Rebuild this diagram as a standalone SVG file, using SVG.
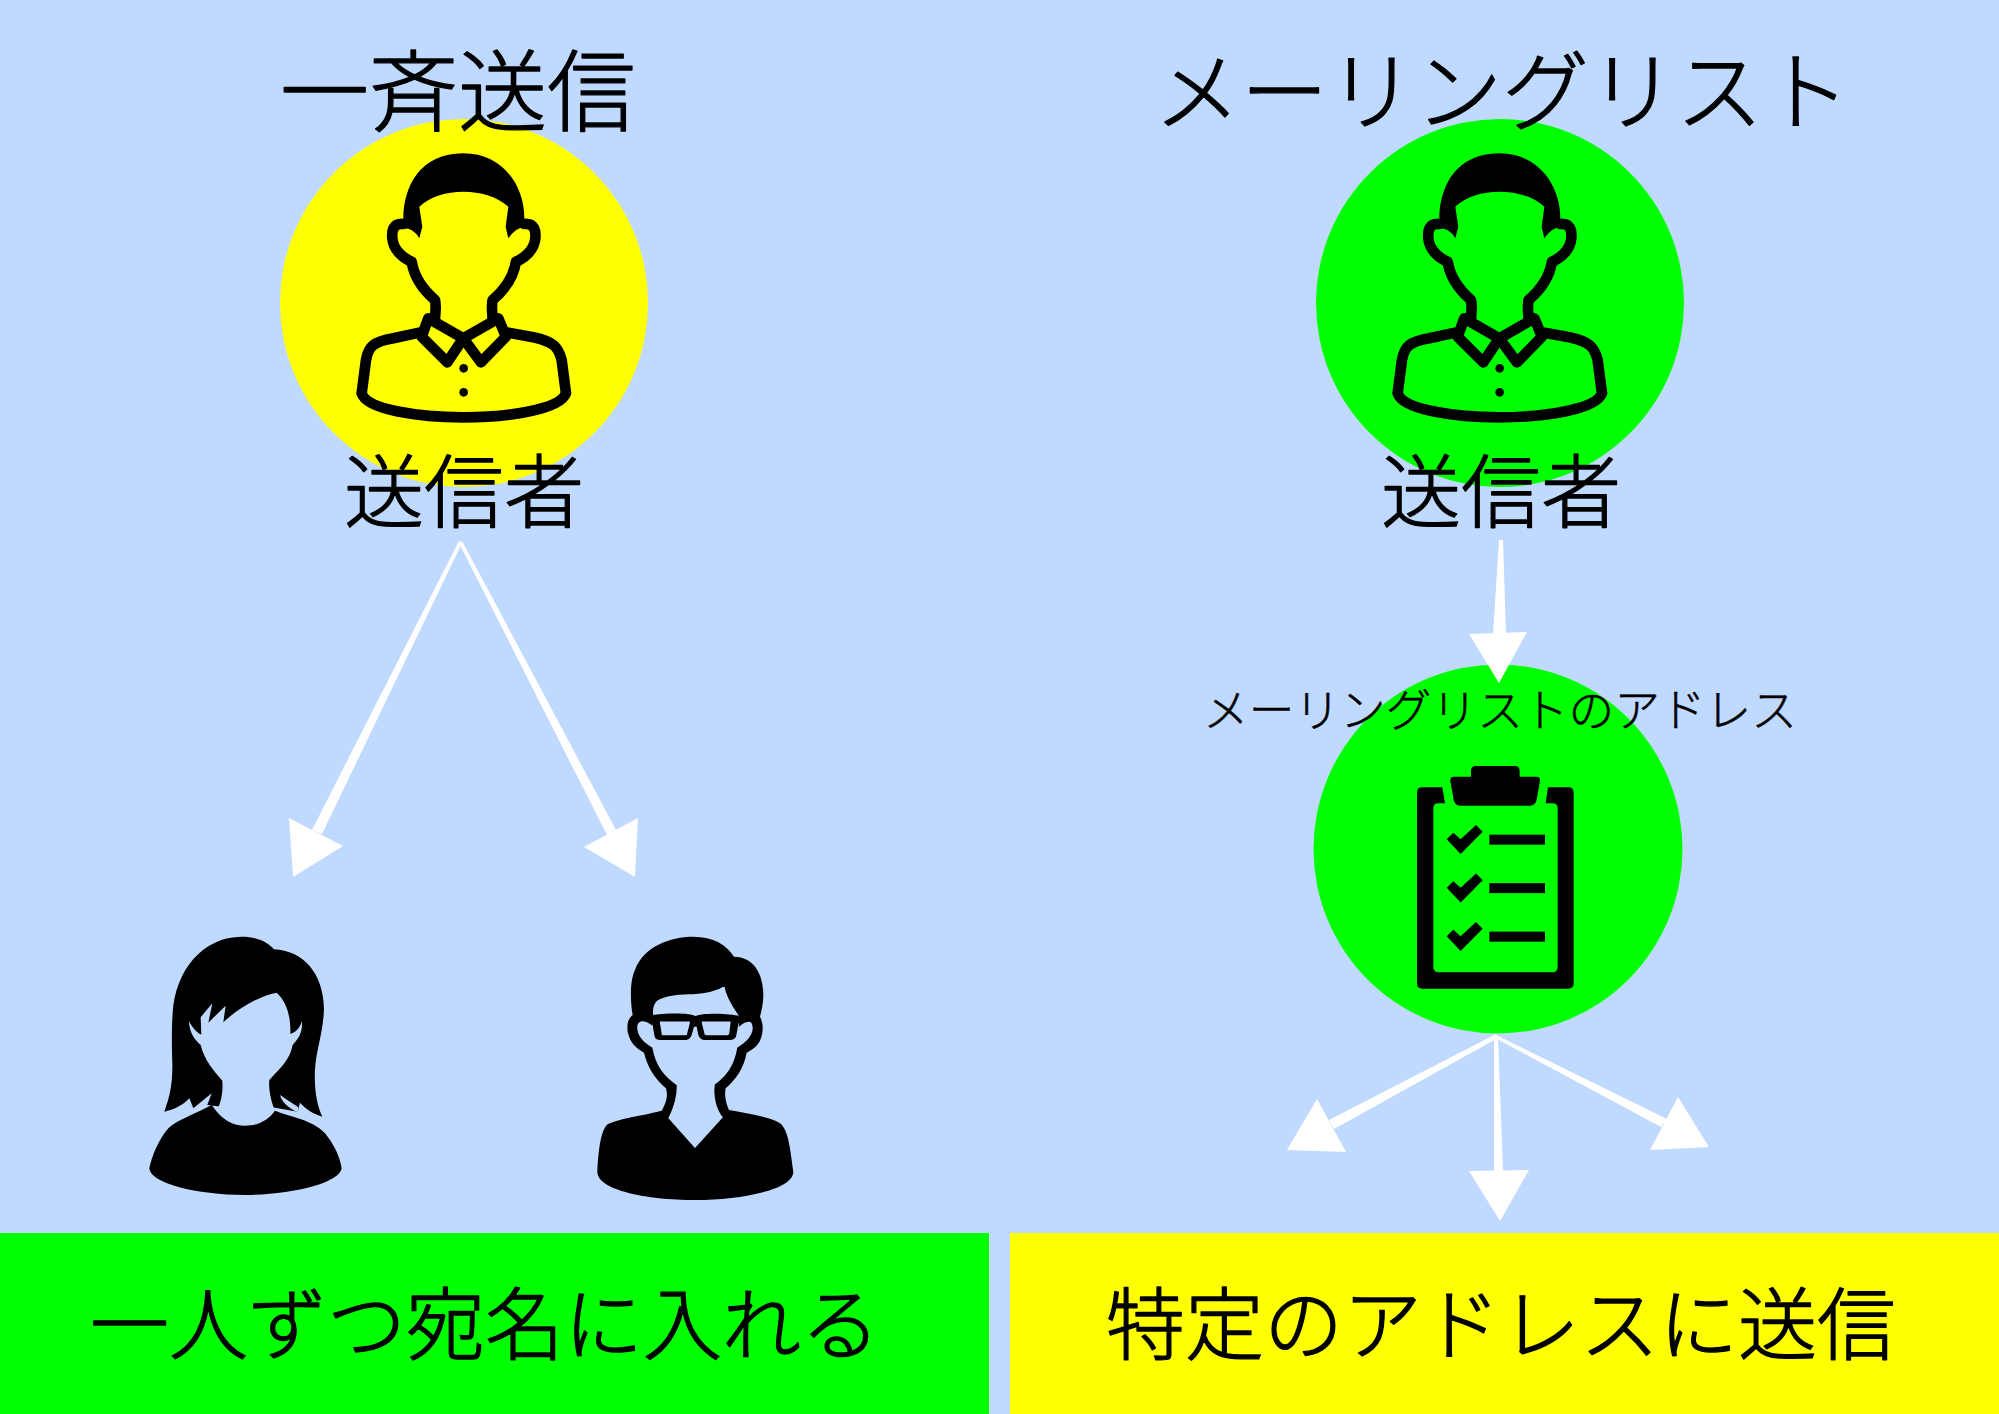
<svg xmlns="http://www.w3.org/2000/svg" width="1999" height="1414" viewBox="0 0 1999 1414">
<style>
text{font-family:"Noto Sans CJK JP","Noto Sans",sans-serif;font-weight:300;fill:#000;text-anchor:middle;stroke:#000;stroke-width:1.300;stroke-linejoin:round;stroke-linecap:round}
.t1{font-size:89px}.t2{font-size:87px}.s{font-size:80px}.m{font-size:45.700px;stroke-width:.5px}.b{font-size:79px}
.line{fill:none;stroke:#000;stroke-width:32;stroke-linejoin:round;stroke-linecap:round}
.arrow{fill:#fff}
.bg{fill:#c0d9ff}
.thin{stroke:#000;stroke-width:5}
</style>
<defs>
<g id="man">
<path class="line" d="M430 282C400 280 395 300 397 325C400 360 430 385 455 395C462 440 490 480 525 510C530 530 525 550 525 570"/>
<path class="line" d="M793 282C823 280 828 300 826 325C823 360 793 385 768 395C761 440 733 480 698 510C693 530 698 550 698 570"/>
<path d="M430 268C430 170 480 70 610 70C730 70 795 170 793 268L793 290C770 295 755 310 745 325L737 290L745 230C680 170 540 170 478 230L487 290L478 325C470 310 455 295 430 295Z"/>
<path class="line" d="M505 565L610 625L562 697L485 620Z"/>
<path class="line" d="M715 565L610 625L663 697L738 620Z"/>
<path class="line" d="M478 608L400 625C340 635 325 650 318 690L305 790C320 840 480 862 610 862C740 862 900 840 918 790L905 690C895 650 880 635 820 622L745 608"/>
<circle cx="611" cy="715" r="13"/><circle cx="611" cy="787" r="13"/>
</g>
</defs>
<rect id="background" width="1999" height="1414" fill="#c0d9ff"/>
<g id="panel-left"><rect x="0" y="1233" width="989" height="181" fill="#0f0"/><text class="b" x="485" y="1354">一人ずつ宛名に入れる</text></g>
<g id="panel-right"><rect x="1010" y="1233" width="989" height="181" fill="#ff0"/><text class="b" x="1501" y="1354">特定のアドレスに送信</text></g>
<g id="sender-left"><circle cx="464" cy="303" r="184" fill="#ff0"/><use href="#man" transform="translate(260 130) scale(.3333)"/></g>
<g id="sender-right"><circle cx="1500" cy="303" r="184" fill="#0f0"/><use href="#man" transform="translate(1296 130) scale(.3333)"/></g>
<g id="list"><circle cx="1498" cy="849" r="184.500" fill="#0f0"/>
<g transform="translate(1390 750) scale(.3333)">
<path d="M97 112L157 112L165 160L145 160Q130 160 130 175L130 650Q130 667 147 667L487 667Q503 667 503 650L503 175Q503 160 488 160L467 160L474 112L535 112Q551 112 551 128L551 700Q551 716 535 716L97 716Q81 716 81 700L81 128Q81 112 97 112Z"/>
<path d="M258 48L375 48Q389 48 389 62L389 80L440 80Q451 80 450 92L440 150Q436 167 420 167L210 167Q195 167 191 150L181 92Q180 80 192 80L243 80L243 62Q243 48 258 48Z"/>
<g id="row"><path d="M170 268L190 248L212 268L258 225L278 245L212 312Z"/><rect x="298" y="254" width="167" height="30"/></g>
<use href="#row" y="145.500"/><use href="#row" y="291"/>
</g></g>
<g id="connectors">
<path class="arrow" d="M459 541L462 543L322 834L312 830Z"/><path class="arrow" d="M289 818L343 846L293 877Z"/>
<path class="arrow" d="M459 543L462 541L616 830L607 835Z"/><path class="arrow" d="M638 818L635 877L584 847Z"/>
<path class="arrow" d="M1499 540L1503 540L1506 634L1493 634Z"/><path class="arrow" d="M1469 634L1527 632L1499 683Z"/>
<path class="arrow" d="M1496 1034L1498 1038L1334 1129L1329 1120Z"/><path class="arrow" d="M1317 1099L1287 1150L1346 1152Z"/>
<path class="arrow" d="M1494 1038L1498 1038L1503 1171L1494 1171Z"/><path class="arrow" d="M1469 1171L1529 1170L1500 1221Z"/>
<path class="arrow" d="M1496 1035L1667 1119L1661 1127L1495 1038Z"/><path class="arrow" d="M1678 1097L1709 1147L1650 1150Z"/>
</g>
<g id="recipient-woman" transform="translate(130 920) scale(.3333)">
<path d="M335 50C385 50 415 68 432 88C520 92 580 160 582 265C580 340 558 390 555 450C552 510 562 560 577 590C550 582 525 565 510 548L503 575L418 560L275 560L232 555L245 520L190 565L178 535C160 555 130 570 103 575C120 530 128 490 127 430C125 370 125 320 128 280C135 150 220 50 335 50Z"/>
<path class="bg" d="M440 218C470 245 483 290 481 342C495 338 510 325 516 303C518 340 505 355 488 375C480 420 450 445 418 480C415 510 425 550 435 572C415 600 385 617 345 617C310 617 280 600 260 572C272 550 280 520 277 482C250 450 225 425 212 375C195 360 178 340 177 303C185 320 200 338 214 344L212 292L247 250L235 308L287 257L280 307C330 260 390 228 440 218Z"/>
<path d="M258 572C280 600 310 617 345 617C385 617 415 600 435 572C480 590 550 600 585 640C610 670 630 710 635 745C630 790 480 825 345 825C200 825 60 790 58 745C65 710 85 660 115 625C140 600 200 580 245 555Z"/>
<path class="bg" d="M450 525L505 562L503 577C475 565 455 545 450 525Z"/>
</g>
<g id="recipient-man" transform="translate(580 920) scale(.3333)">
<path d="M340 50C400 50 440 75 462 110C520 110 550 160 550 225C550 250 545 270 540 290C552 310 552 350 532 375C522 387 510 392 500 398C490 450 465 480 437 505C432 530 440 555 447 570C500 580 570 590 600 610C625 630 630 680 640 755C640 810 480 840 345 840C200 840 52 810 52 755C55 700 60 640 80 615C110 595 200 585 245 572C258 550 265 530 258 505C230 480 205 450 192 398C170 385 150 370 143 335C140 310 145 295 158 285C150 240 150 180 165 150C190 80 270 50 340 50Z"/>
<path class="bg thin" d="M217 290C215 270 218 250 230 240C260 222 300 222 340 220C380 218 410 210 435 195C440 230 460 260 478 285L480 315C490 305 505 300 515 305C530 330 515 360 474 385C465 440 440 470 407 495C402 530 412 570 432 592L345 688L262 595C280 560 288 530 288 497C250 470 225 440 215 385C190 370 165 345 170 315C175 300 190 295 215 312Z"/>
<path d="M218 285C280 278 330 280 347 288C365 280 420 278 476 287L478 300L468 350Q462 360 450 360L375 360Q360 360 355 345L350 320H342L335 345Q330 360 315 360L240 360Q228 360 224 350L215 300Z"/>
<path class="bg thin" d="M236 302L327 302Q334 302 332 310L323 345Q322 348 315 348L248 348Q244 348 243 344ZM365 302L455 302L450 342Q448 348 442 348L378 348Q372 348 371 342L363 310Q362 302 365 302Z"/>
</g>
<g id="label-sender-left"><text class="s" x="464" y="521">送信者</text></g>
<g id="label-sender-right"><text class="s" x="1501" y="521">送信者</text></g>
<g id="label-list"><text class="m" x="1500" y="727">メーリングリストのアドレス</text></g>
<g id="title-left"><text class="t1" x="458" y="124">一斉送信</text></g>
<g id="title-right"><text class="t2" x="1502" y="124">メーリングリスト</text></g>
</svg>
